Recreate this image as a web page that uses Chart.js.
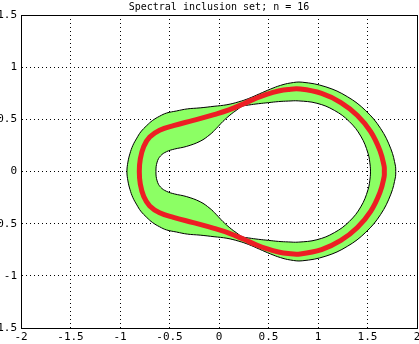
<!DOCTYPE html>
<html>
<head>
<meta charset="utf-8">
<script src="https://cdn.jsdelivr.net/npm/chart.js@4/dist/chart.umd.min.js"></script>
<style>
  html, body { margin: 0; padding: 0; background: #fff; }
  canvas { display: block; }
</style>
</head>
<body>
<canvas id="chart" width="419" height="344"></canvas>
<script>
const titleText = 'Spectral inclusion set; n = 16';
const xTicks = [-2, -1.5, -1, -0.5, 0, 0.5, 1, 1.5, 2];
const yTicks = [-1.5, -1, -0.5, 0, 0.5, 1, 1.5];

// outer edge of the inclusion set, counter-clockwise from the right
const outerPts = [
  [1.785,0],[1.783,0.05],[1.736,0.217],[1.631,0.414],[1.483,0.582],[1.297,0.717],[1.08,0.811],
  [0.84,0.856],[0.72,0.848],[0.62,0.825],[0.52,0.79],[0.41,0.745],[0.30,0.70],[0.20,0.668],
  [0.08,0.64],[-0.05,0.625],[-0.19,0.61],[-0.32,0.60],[-0.43,0.58],[-0.53,0.56],[-0.60,0.53],
  [-0.67,0.49],[-0.73,0.44],[-0.79,0.38],[-0.83,0.32],[-0.87,0.25],[-0.90,0.17],[-0.92,0.09],
  [-0.93,0],
  [-0.92,-0.09],[-0.90,-0.17],[-0.87,-0.25],[-0.83,-0.32],[-0.79,-0.38],[-0.73,-0.44],
  [-0.67,-0.49],[-0.60,-0.53],[-0.53,-0.56],[-0.43,-0.58],[-0.32,-0.60],[-0.19,-0.61],
  [-0.05,-0.625],[0.08,-0.64],[0.20,-0.668],[0.30,-0.70],[0.41,-0.745],[0.52,-0.79],
  [0.62,-0.825],[0.72,-0.848],[0.84,-0.856],[1.08,-0.811],[1.297,-0.717],[1.483,-0.582],
  [1.631,-0.414],[1.736,-0.217],[1.783,-0.05],[1.785,0]
];

// inner edge (the hole), counter-clockwise from the right
const innerPts = [
  [1.53,0],[1.528,0.05],[1.505,0.175],[1.432,0.339],[1.316,0.479],[1.165,0.586],[0.989,0.654],
  [0.80,0.677],[0.70,0.675],[0.60,0.67],[0.50,0.66],[0.40,0.65],[0.30,0.637],[0.235,0.625],
  [0.18,0.59],[0.11,0.54],[0.04,0.48],[-0.03,0.41],[-0.09,0.355],[-0.19,0.29],[-0.33,0.24],
  [-0.45,0.215],[-0.53,0.19],[-0.59,0.15],[-0.625,0.09],[-0.637,0],
  [-0.625,-0.09],[-0.59,-0.15],[-0.53,-0.19],[-0.45,-0.215],[-0.33,-0.24],[-0.19,-0.29],
  [-0.09,-0.355],[-0.03,-0.41],[0.04,-0.48],[0.11,-0.54],[0.18,-0.59],[0.235,-0.625],
  [0.30,-0.637],[0.40,-0.65],[0.50,-0.66],[0.60,-0.67],[0.70,-0.675],[0.80,-0.677],
  [0.989,-0.654],[1.165,-0.586],[1.316,-0.479],[1.432,-0.339],[1.505,-0.175],[1.528,-0.05],
  [1.53,0]
];

// red spectrum curve
const redPts = [
  [1.67,0],[1.668,0.05],[1.626,0.20],[1.532,0.382],[1.398,0.537],[1.231,0.661],[1.036,0.749],
  [0.82,0.79],[0.70,0.787],[0.60,0.772],[0.48,0.74],[0.38,0.705],[0.25,0.65],[0.10,0.59],
  [-0.05,0.545],[-0.26,0.49],[-0.46,0.44],[-0.60,0.395],[-0.70,0.33],[-0.76,0.24],
  [-0.795,0.12],[-0.805,0],
  [-0.795,-0.12],[-0.76,-0.24],[-0.70,-0.33],[-0.60,-0.395],[-0.46,-0.44],[-0.26,-0.49],
  [-0.05,-0.545],[0.10,-0.59],[0.25,-0.65],[0.38,-0.705],[0.48,-0.74],[0.60,-0.772],
  [0.70,-0.787],[0.82,-0.79],[1.036,-0.749],[1.231,-0.661],[1.398,-0.537],[1.532,-0.382],
  [1.626,-0.20],[1.668,-0.05],[1.67,0]
];

const toXY = pts => pts.map(p => ({x: p[0], y: p[1]}));

// band = outer loop, then the inner loop walked backwards, so the hole stays empty
const innerRev = innerPts.slice().reverse();
const bandPts = outerPts.concat([outerPts[outerPts.length - 1], innerRev[0]], innerRev);

const green = 'rgb(140,255,100)';
const red = 'rgb(237,30,36)';
const monoFont = 'DejaVu Sans Mono';

function edgeDash(ctx) {
  const s = ctx.scale;
  if (ctx.tick && (ctx.tick.value === s.min || ctx.tick.value === s.max)) return [];
  return [1, 3];
}

const ctx = document.getElementById('chart').getContext('2d');
new Chart(ctx, {
  type: 'scatter',
  data: {
    datasets: [
      {
        label: 'spectrum',
        data: toXY(redPts),
        showLine: true,
        borderColor: red,
        borderWidth: 5,
        pointRadius: 0,
        tension: 0.4,
        fill: false
      },
      {
        label: 'outer',
        data: toXY(outerPts),
        showLine: true,
        borderColor: '#000',
        borderWidth: 1,
        pointRadius: 0,
        tension: 0.4,
        fill: false
      },
      {
        label: 'inner',
        data: toXY(innerPts),
        showLine: true,
        borderColor: '#000',
        borderWidth: 1,
        pointRadius: 0,
        tension: 0.4,
        fill: false
      },
      {
        label: 'band',
        data: toXY(bandPts),
        showLine: true,
        borderColor: 'rgba(0,0,0,0)',
        borderWidth: 0,
        backgroundColor: green,
        pointRadius: 0,
        tension: 0.4,
        fill: 'shape'
      }
    ]
  },
  options: {
    responsive: false,
    animation: false,
    devicePixelRatio: 1,
    layout: { padding: { left: 0, right: 2, top: 0, bottom: 0 } },
    plugins: {
      legend: { display: false },
      tooltip: { enabled: false },
      title: {
        display: true,
        fullSize: false,
        text: titleText,
        color: '#000',
        font: { family: monoFont, size: 10, weight: 'normal' },
        padding: { top: 1, bottom: 2 }
      }
    },
    scales: {
      x: {
        type: 'linear',
        min: -2,
        max: 2,
        afterBuildTicks: axis => { axis.ticks = xTicks.map(v => ({value: v})); },
        afterFit: axis => { axis.height = 16; axis.paddingLeft = 0; axis.paddingRight = 0; },
        ticks: {
          color: '#000',
          padding: 3,
          maxRotation: 0,
          autoSkip: false,
          font: { family: monoFont, size: 11 },
          callback: v => String(v)
        },
        grid: { color: '#000', lineWidth: 1, drawTicks: false },
        border: { display: true, color: '#000', width: 1, dash: edgeDash }
      },
      y: {
        type: 'linear',
        min: -1.5,
        max: 1.5,
        afterBuildTicks: axis => { axis.ticks = yTicks.map(v => ({value: v})); },
        afterFit: axis => { axis.width = 21; axis.paddingTop = 0; axis.paddingBottom = 0; },
        ticks: {
          color: '#000',
          padding: 4,
          autoSkip: false,
          font: { family: monoFont, size: 11 },
          callback: v => String(v)
        },
        grid: { color: '#000', lineWidth: 1, drawTicks: false },
        border: { display: true, color: '#000', width: 1, dash: edgeDash }
      }
    }
  }
});
</script>
</body>
</html>
